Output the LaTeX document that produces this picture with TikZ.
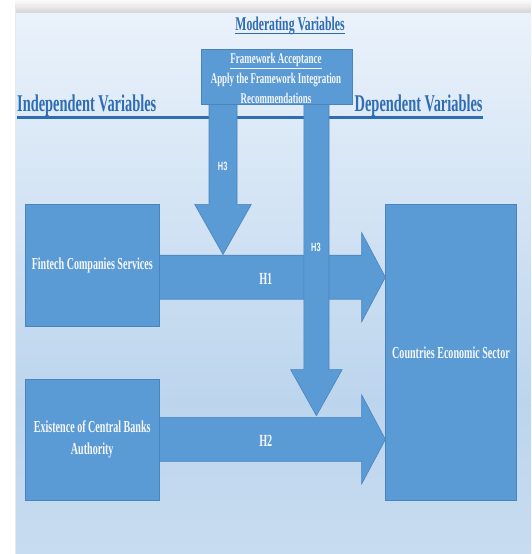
\documentclass[tikz,border=0pt]{standalone}
\usepackage{fontspec}
\newfontfamily\cond[FakeStretch=0.6]{Liberation Serif}
\newfontfamily\condsans[FakeStretch=0.62]{Liberation Sans}
\usetikzlibrary{calc}
\definecolor{boxblue}{HTML}{5B9BD5}
\definecolor{edgeblue}{HTML}{4A84BE}
\definecolor{headblue}{HTML}{2E6DB4}
\definecolor{bgtop}{HTML}{EAF2FB}
\definecolor{bgmid}{HTML}{BCD5ED}
\definecolor{bgbot}{HTML}{C8DCF0}
\definecolor{txtw}{HTML}{F5F7FA}
\newcommand\blockR[6]{\filldraw[arr] (#1,#3-#4) -- (#2-#6,#3-#4) -- (#2-#6,#3-#5) -- (#2,#3) -- (#2-#6,#3+#5) -- (#2-#6,#3+#4) -- (#1,#3+#4);}
\newcommand\blockD[6]{\filldraw[arr] (#1-#4,#2) -- (#1-#4,#3-#6) -- (#1-#5,#3-#6) -- (#1,#3) -- (#1+#5,#3-#6) -- (#1+#4,#3-#6) -- (#1+#4,#2);}
\begin{document}
\begin{tikzpicture}[x=1pt,y=-1pt,
 vbox/.style={draw=edgeblue, line width=0.6pt, fill=boxblue, inner sep=0pt, anchor=north west, text=txtw, align=center},
 arr/.style={draw=edgeblue, line width=0.6pt, fill=boxblue},
 lbl/.style={text=txtw, inner sep=0pt},
 head/.style={text=headblue, inner sep=0pt, anchor=base west, font=\cond\bfseries\fontsize{24}{26}\selectfont}]
\useasboundingbox (0,0) rectangle (531,554);
\fill[white] (0,0) rectangle (531,554);
\foreach \i in {1,...,10} \fill[black,opacity=0.016] (16-0.12*\i,13-1.3*\i) rectangle (531,554);
\shade[top color=bgtop,bottom color=bgmid] (16,13) rectangle (531,400.5);
\shade[top color=bgmid,bottom color=bgbot] (16,400) rectangle (531,554);

% headings
\node[head] (ind) at (17,111) {Independent Variables};
\node[head] (dep) at (354.5,111) {Dependent Variables};
\draw[headblue, line width=2.2pt] ($(ind.base west)+(0,6.5)$) -- ($(dep.base east)+(0,6.5)$);
\node[head, anchor=base, font=\cond\bfseries\fontsize{19.5}{21}\selectfont] (modt) at (290,30) {Moderating Variables};
\draw[headblue, line width=1.4pt] ($(modt.base west)+(0,3.5)$) -- ($(modt.base east)+(0,3.5)$);

% arrows
\blockD{223}{104}{254.5}{14}{28.3}{50.1}
\blockR{158.5}{385.4}{277.2}{22}{44.5}{23.7}
\blockD{316.4}{104}{415.7}{12.6}{25.8}{46.1}
\blockR{158.5}{385.4}{439.4}{22}{44.5}{23.7}

% boxes
\node[vbox, minimum width=151, minimum height=55] (mod) at (200.5,49) {};
\node[lbl, align=center, font=\cond\bfseries\fontsize{14.9}{20.3}\selectfont] (modtxt) at (276,78.5)
  {\underline{Framework Acceptance}\\Apply the Framework Integration\\Recommendations};
\node[vbox, minimum width=133.1, minimum height=121.9, font=\cond\bfseries\fontsize{16.8}{22}\selectfont] (fin) at (25.4,204.4) {Fintech Companies Services};
\node[vbox, minimum width=133.1, minimum height=121.5, font=\cond\bfseries\fontsize{16.8}{22}\selectfont] (ext) at (25.4,378.5) {Existence of Central Banks\\Authority};
\node[vbox, minimum width=130.6, minimum height=295.6, font=\cond\bfseries\fontsize{16.8}{22}\selectfont] (ces) at (385.4,204.4) {Countries Economic Sector};

% labels
\node[lbl, font=\condsans\bfseries\fontsize{12}{14}\selectfont] (h3a) at (222.7,166) {H3};
\node[lbl, font=\condsans\bfseries\fontsize{12}{14}\selectfont] (h3b) at (316,247.7) {H3};
\node[lbl, font=\cond\bfseries\fontsize{17}{19}\selectfont] (h1) at (265.8,278.9) {H1};
\node[lbl, font=\cond\bfseries\fontsize{17}{19}\selectfont] (h2) at (265.8,441) {H2};
\end{tikzpicture}
\end{document}
